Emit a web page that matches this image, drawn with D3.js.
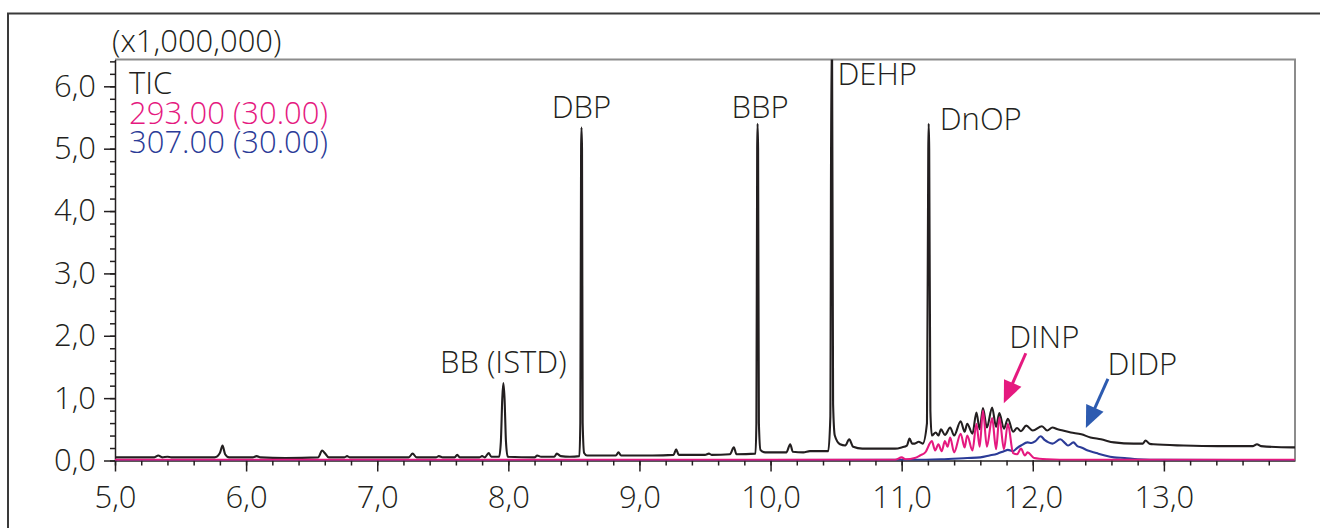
<!DOCTYPE html>
<html>
  <head>
    <meta charset="utf-8">
    <title>Phthalate TIC chromatogram</title>
    <script src="https://cdn.jsdelivr.net/npm/d3@7"></script>
    <style>
      body { margin: 0; background: #fff; }
      svg { display: block; }
      svg text { font-family: "Open Sans", "Noto Sans", sans-serif; font-weight: 300; }
      .axis text { font-size: 31px; fill: #231f20; }
      .axis line, .axis path { stroke: #231f20; stroke-width: 1.5; }
      .label { font-size: 31px; fill: #231f20; }
    </style>
  </head>

  <body>
    <svg id="chart" width="1321" height="528"></svg>

    <script>
      // data (retention time in min, intensity x1,000,000)
      ticPoints = [
        [5.00,0.05],[5.30,0.05],[5.33,0.08],[5.36,0.05],[5.40,0.06],[5.43,0.05],[5.76,0.05],[5.80,0.12],
        [5.82,0.24],[5.84,0.10],[5.87,0.05],[6.05,0.05],[6.08,0.07],[6.11,0.05],[6.30,0.04],[6.55,0.05],
        [6.58,0.16],[6.60,0.12],[6.63,0.05],[6.75,0.05],[6.77,0.07],[6.79,0.05],[6.95,0.05],[7.24,0.05],
        [7.27,0.11],[7.30,0.05],[7.45,0.05],[7.47,0.07],[7.50,0.05],[7.59,0.05],[7.61,0.09],[7.63,0.05],
        [7.78,0.05],[7.80,0.07],[7.82,0.05],[7.85,0.12],[7.87,0.06],[7.93,0.06],[7.943,0.3],[7.954,1.0],
        [7.962,1.24],[7.971,1.0],[7.982,0.3],[7.995,0.06],[8.20,0.05],[8.22,0.08],[8.25,0.06],[8.35,0.06],
        [8.37,0.11],[8.40,0.07],[8.47,0.06],[8.542,0.07],[8.549,0.6],[8.555,5.0],[8.558,5.34],[8.562,5.0],
        [8.567,0.6],[8.578,0.12],[8.60,0.08],[8.82,0.08],[8.84,0.13],[8.86,0.08],[9.10,0.08],[9.26,0.09],
        [9.28,0.18],[9.30,0.09],[9.50,0.09],[9.53,0.11],[9.55,0.09],[9.69,0.10],[9.72,0.21],[9.74,0.10],
        [9.885,0.11],[9.892,0.6],[9.898,5.0],[9.901,5.40],[9.905,5.0],[9.911,0.6],[9.923,0.17],[9.96,0.13],
        [10.12,0.13],[10.15,0.26],[10.17,0.14],[10.25,0.13],[10.30,0.15],[10.44,0.15],[10.456,0.7],[10.464,6.7],
        [10.469,6.7],[10.477,0.9],[10.49,0.4],[10.53,0.26],[10.57,0.24],[10.60,0.34],[10.63,0.22],[10.70,0.19],
        [10.95,0.19],[11.00,0.21],[11.04,0.24],[11.06,0.35],[11.08,0.27],[11.10,0.27],[11.13,0.30],[11.16,0.27],
        [11.193,0.6],[11.203,5.0],[11.206,5.40],[11.210,5.0],[11.219,0.8],[11.23,0.40],[11.26,0.45],[11.28,0.40],
        [11.30,0.50],[11.33,0.41],[11.37,0.53],[11.40,0.40],[11.45,0.63],[11.48,0.46],[11.50,0.59],[11.54,0.43],
        [11.57,0.77],[11.595,0.50],[11.62,0.84],[11.65,0.53],[11.69,0.85],[11.72,0.54],[11.745,0.76],[11.78,0.51],
        [11.81,0.67],[11.85,0.46],[11.88,0.52],[11.91,0.47],[11.95,0.56],[12.00,0.48],[12.07,0.55],[12.11,0.48],
        [12.15,0.53],[12.19,0.50],[12.21,0.49],[12.29,0.45],[12.37,0.42],[12.44,0.37],[12.52,0.34],[12.62,0.29],
        [12.77,0.27],[12.84,0.27],[12.86,0.32],[12.89,0.27],[12.92,0.26],[13.15,0.24],[13.41,0.23],[13.68,0.23],
        [13.71,0.26],[13.74,0.23],[13.98,0.21],[14.00,0.21]
      ];

      ion293Points = [
        [5.00,0.01],[10.95,0.01],[11.00,0.05],[11.03,0.02],[11.10,0.04],[11.14,0.08],[11.18,0.13],[11.23,0.31],
        [11.255,0.16],[11.28,0.26],[11.305,0.15],[11.33,0.31],[11.35,0.22],[11.37,0.37],[11.40,0.13],[11.45,0.43],
        [11.48,0.21],[11.50,0.40],[11.54,0.16],[11.57,0.59],[11.595,0.22],[11.62,0.80],[11.65,0.22],[11.69,0.68],
        [11.72,0.18],[11.745,0.69],[11.78,0.18],[11.81,0.59],[11.85,0.12],[11.88,0.10],[11.91,0.19],[11.94,0.08],
        [11.96,0.13],[12.01,0.04],[12.11,0.02],[12.30,0.01],[14.00,0.01]
      ];

      ion307Points = [
        [5.00,0.005],[11.10,0.01],[11.30,0.02],[11.50,0.04],[11.60,0.05],[11.67,0.08],[11.73,0.11],[11.78,0.15],
        [11.81,0.17],[11.85,0.15],[11.88,0.20],[11.91,0.24],[11.96,0.29],[11.99,0.28],[12.02,0.31],[12.06,0.39],
        [12.09,0.33],[12.12,0.29],[12.15,0.27],[12.21,0.34],[12.25,0.27],[12.27,0.24],[12.31,0.29],[12.34,0.23],
        [12.37,0.21],[12.42,0.16],[12.47,0.13],[12.50,0.11],[12.55,0.08],[12.62,0.05],[12.70,0.04],[12.80,0.02],
        [13.00,0.01],[14.00,0.005]
      ];

      peakLabels = [
        {name: "BB (ISTD)", t: 7.962, v: 1.40, anchor: "middle"},
        {name: "DBP", t: 8.557, v: 5.49, anchor: "middle"},
        {name: "BBP", t: 9.92, v: 5.49, anchor: "middle"},
        {name: "DEHP", t: 10.51, v: 6.02, anchor: "start"},
        {name: "DnOP", t: 11.29, v: 5.30, anchor: "start"},
        {name: "DINP", t: 11.82, v: 1.80, anchor: "start"},
        {name: "DIDP", t: 12.57, v: 1.37, anchor: "start"}
      ];

      arrows = [
        {from: [11.947, 1.72], to: [11.779, 0.92], color: "#e5197f"},
        {from: [12.573, 1.31], to: [12.405, 0.52], color: "#2d5bb0"}
      ];

      legendItems = [
        {name: "TIC", color: "#231f20"},
        {name: "293.00 (30.00)", color: "#e5197f"},
        {name: "307.00 (30.00)", color: "#2b3b97"}
      ];

      xMajorTicks = [5, 6, 7, 8, 9, 10, 11, 12, 13];
      xMinorTicks = d3.range(5, 13.9, 0.2);
      yMajorTicks = [0, 1, 2, 3, 4, 5, 6];
      yMinorTicks = d3.range(0, 6.5, 0.2);

      // layout
      margin = {top: 59.5, right: 26, bottom: 67.5, left: 115};
      width = 1321;
      height = 528;

      chart = d3.select("#chart");

      // outer frame (top and left only)
      chart.append("path")
          .attr("d", "M8,528 V13.5 H1320")
          .attr("fill", "none")
          .attr("stroke", "#3a3a3a")
          .attr("stroke-width", 2);

      x = d3.scaleLinear()
          .domain([5, 14])
          .range([margin.left, width - margin.right]);

      y = d3.scaleLinear()
          .domain([0, 6.43])
          .range([height - margin.bottom, margin.top]);

      comma = d => d.toFixed(1).replace(".", ",");

      // plot border (top and right in grey)
      chart.append("path")
          .attr("d", `M${x(5)},${y(6.43)} H${x(14)} V${y(0)}`)
          .attr("fill", "none")
          .attr("stroke", "#8c8c8c")
          .attr("stroke-width", 2);

      // axes
      chart.append("g")
          .attr("class", "axis")
          .attr("transform", `translate(0,${y(0)})`)
          .call(d3.axisBottom(x).tickValues(xMinorTicks).tickSize(5).tickFormat(""))
          .call(g => g.select(".domain").remove());

      xAxis = chart.append("g")
          .attr("class", "axis")
          .attr("transform", `translate(0,${y(0)})`)
          .call(d3.axisBottom(x).tickValues(xMajorTicks).tickSize(11).tickSizeOuter(0).tickFormat(comma));
      xAxis.selectAll("text").attr("y", 47).attr("dy", 0);

      chart.append("g")
          .attr("class", "axis")
          .attr("transform", `translate(${x(5)},0)`)
          .call(d3.axisLeft(y).tickValues(yMinorTicks).tickSize(5).tickFormat(""))
          .call(g => g.select(".domain").remove());

      yAxis = chart.append("g")
          .attr("class", "axis")
          .attr("transform", `translate(${x(5)},0)`)
          .call(d3.axisLeft(y).tickValues(yMajorTicks).tickSize(11).tickSizeOuter(0).tickFormat(comma));
      yAxis.selectAll("text").attr("x", -19);

      chart.append("text")
          .attr("class", "label")
          .attr("x", 112)
          .attr("y", 52)
          .text("(x1,000,000)");

      // traces
      chart.append("defs").append("clipPath")
          .attr("id", "plotClip")
        .append("rect")
          .attr("x", x(5))
          .attr("y", y(6.43))
          .attr("width", x(14) - x(5))
          .attr("height", y(0) - y(6.43));

      linePath = d3.line()
          .x(d => x(d[0]))
          .y(d => y(d[1]))
          .curve(d3.curveMonotoneX);

      traces = chart.append("g").attr("clip-path", "url(#plotClip)");

      [[ticPoints, "#231f20"], [ion307Points, "#2b3b97"], [ion293Points, "#e5197f"]].forEach(s => {
        traces.append("path")
            .attr("d", linePath(s[0]))
            .attr("fill", "none")
            .attr("stroke", s[1])
            .attr("stroke-width", 2.1)
            .attr("stroke-linejoin", "round");
      });

      // legend
      chart.selectAll(".legend")
        .data(legendItems)
        .join("text")
          .attr("class", "label")
          .attr("x", 129)
          .attr("y", (d, i) => 94 + i * 29.5)
          .style("fill", d => d.color)
          .text(d => d.name);

      // peak labels
      chart.selectAll(".peak")
        .data(peakLabels)
        .join("text")
          .attr("class", "label")
          .attr("x", d => x(d.t))
          .attr("y", d => y(d.v))
          .attr("text-anchor", d => d.anchor)
          .text(d => d.name);

      // arrows
      arrows.forEach(a => {
        x0 = x(a.from[0]); y0 = y(a.from[1]);
        x1 = x(a.to[0]); y1 = y(a.to[1]);
        len = Math.hypot(x1 - x0, y1 - y0);
        ux = (x1 - x0) / len; uy = (y1 - y0) / len;
        headLen = 22; headW = 9.5;
        bx = x1 - ux * headLen; by = y1 - uy * headLen;
        chart.append("line")
            .attr("x1", x0).attr("y1", y0)
            .attr("x2", bx + ux * 2).attr("y2", by + uy * 2)
            .attr("stroke", a.color)
            .attr("stroke-width", 3);
        chart.append("path")
            .attr("d", `M${x1},${y1} L${bx - uy * headW},${by + ux * headW} L${bx + uy * headW},${by - ux * headW} Z`)
            .attr("fill", a.color);
      });
    </script>
  </body>
</html>
